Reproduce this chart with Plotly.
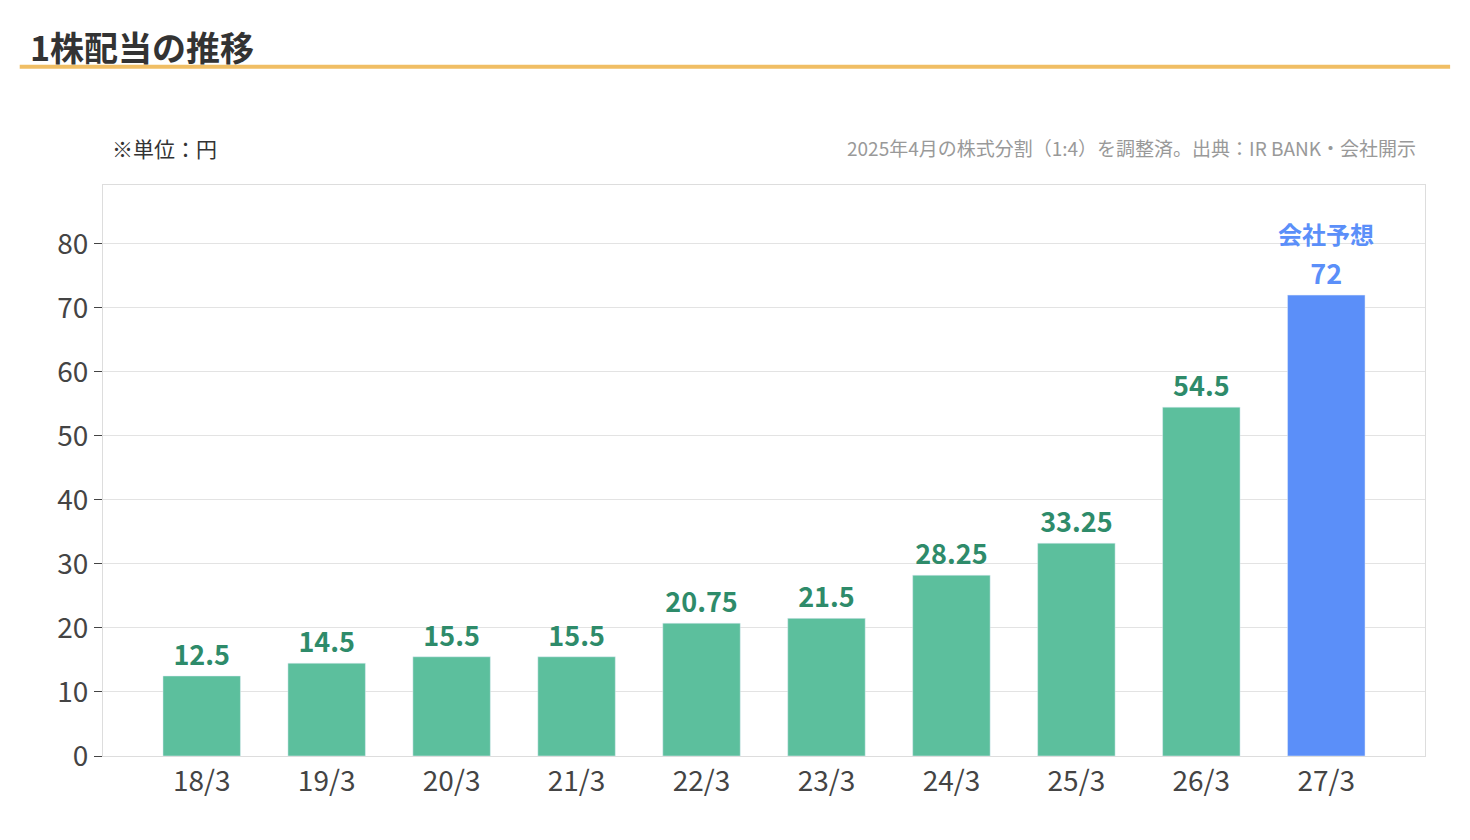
import plotly.graph_objects as go

periods = ["18/3", "19/3", "20/3", "21/3", "22/3", "23/3", "24/3", "25/3", "26/3", "27/3"]
dividends = [12.5, 14.5, 15.5, 15.5, 20.75, 21.5, 28.25, 33.25, 54.5, 72]
labels = ["12.5", "14.5", "15.5", "15.5", "20.75", "21.5", "28.25", "33.25", "54.5", "72"]
is_forecast = [False] * 9 + [True]
y_ticks = [0, 10, 20, 30, 40, 50, 60, 70, 80]

GREEN = "#5CBF9D"
BLUE = "#5B8FF9"
FONT = "Noto Sans CJK JP"

colors = [BLUE if f else GREEN for f in is_forecast]
text_colors = ["#5B8FF9" if f else "#2E8B6A" for f in is_forecast]

fig = go.Figure(go.Bar(
    x=periods, y=dividends, width=0.62, marker=dict(color=colors),
    text=labels, textposition="outside", cliponaxis=False,
    textfont=dict(size=27, color=text_colors, family=FONT, weight="bold"),
    hoverinfo="skip",
))

fig.add_annotation(x=periods[-1], y=dividends[-1], yshift=62, text="<b>会社予想</b>",
                   showarrow=False, font=dict(size=24, color=BLUE, family=FONT))

fig.add_annotation(xref="paper", yref="paper", x=0.005, y=1.065, xanchor="left", yanchor="middle",
                   text="※単位：円", showarrow=False, font=dict(size=21, color="#333", family=FONT))
fig.add_annotation(xref="paper", yref="paper", x=0.995, y=1.065, xanchor="right", yanchor="middle",
                   text="2025年4月の株式分割（1:4）を調整済。出典：IR BANK・会社開示",
                   showarrow=False, font=dict(size=19, color="#999", family=FONT))

fig.add_annotation(xref="paper", yref="paper", x=-0.057, y=1.242, xanchor="left", yanchor="middle",
                   text="<b>1株配当の推移</b>", showarrow=False,
                   font=dict(size=34, color="#333", family=FONT))
fig.add_shape(type="line", xref="paper", yref="paper", x0=-0.063, x1=1.019, y0=1.207, y1=1.207,
              line=dict(color="#F0BE64", width=4))

fig.update_layout(
    width=1470, height=840,
    margin=dict(l=95, r=53, t=177, b=92),
    paper_bgcolor="white", plot_bgcolor="white",
    showlegend=False,
    font=dict(family=FONT),
    xaxis=dict(range=[-0.79, 9.79], showline=True, linecolor="#DDD", mirror=True, ticks="",
               tickfont=dict(size=28, color="#444")),
    yaxis=dict(range=[0, 89.2], tickvals=y_ticks, showgrid=True, gridcolor="#E3E3E3",
               showline=True, linecolor="#DDD", mirror=True, ticks="outside",
               ticklen=8, tickcolor="#444", zeroline=False,
               tickfont=dict(size=28, color="#444")),
)

fig.write_html("out.html")
